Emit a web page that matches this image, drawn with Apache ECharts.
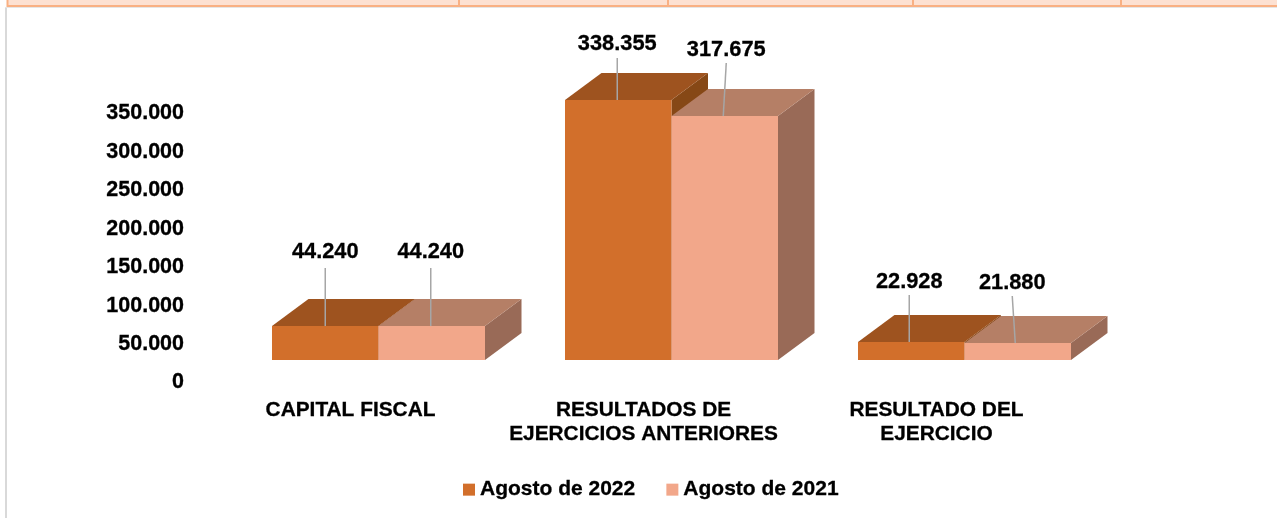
<!DOCTYPE html>
<html>
<head>
<meta charset="utf-8">
<style>html,body{margin:0;padding:0;background:#fff}#c{width:1277px;height:518px}</style>
<script src="https://cdn.jsdelivr.net/npm/echarts@6/dist/echarts.min.js"></script>
</head>
<body>
<div id="c"></div>
<script>
const categories = ['CAPITAL FISCAL', 'RESULTADOS DE\nEJERCICIOS ANTERIORES', 'RESULTADO DEL\nEJERCICIO'];
const seriesNames = ['Agosto de 2022', 'Agosto de 2021'];
const values2022 = [44240, 338355, 22928];
const values2021 = [44240, 317675, 21880];
const yMax = 350000;
const yStep = 50000;

// Presentation only
const FONT = '"Liberation Sans", Arial, sans-serif';
const DEPTH_X = 36.5, DEPTH_Y = 27, FLOOR_LIFT = 22.5, BAR_SHARE = 0.3635;
const INK = { textBorderColor: '#000', textBorderWidth: 0.3 };
const palettes = [
  { front: '#D26F2B', top: '#9E531F', side: '#864816' },
  { front: '#F2A78A', top: '#B57F66', side: '#996A57' }
];
// leader lines: [shift at bar, shift at label, length, gap to label]
const leaders = [
  [[0, 0, 58, 16], [-1, -1, 42, 14], [-2, -2, 47, 13]],
  [[-1, -1, 58, 16], [-1.5, 1.5, 53, 13], [-2.5, -5.5, 47, 13]]
];
const fmt = v => String(v).replace(/\B(?=(\d{3})+$)/g, '.');

function renderBar(seriesIdx) {
  return function (params, api) {
    const cat = api.value(0), val = api.value(1);
    const base = api.coord([cat, 0]), head = api.coord([cat, val]);
    const w = api.size([1, 0])[0] * BAR_SHARE;
    const x0 = base[0] + (seriesIdx === 0 ? -w : 0), x1 = x0 + w;
    const yb = Math.round(base[1] - FLOOR_LIFT), yt = Math.round(head[1] - FLOOR_LIFT);
    const c = palettes[seriesIdx];
    const poly = (points, fill) => ({ type: 'polygon', shape: { points }, style: { fill } });
    const [s0, s1, len, gap] = leaders[seriesIdx][cat];
    const lx = (x0 + x1) / 2 + s0, ex = (x0 + x1) / 2 + s1;
    return {
      type: 'group',
      children: [
        poly([[x1, yt], [x1 + DEPTH_X, yt - DEPTH_Y], [x1 + DEPTH_X, yb - DEPTH_Y], [x1, yb]], c.side),
        poly([[x0, yt], [x0 + DEPTH_X, yt - DEPTH_Y], [x1 + DEPTH_X, yt - DEPTH_Y], [x1, yt]], c.top),
        poly([[x0, yb], [x0, yt], [x1, yt], [x1, yb]], c.front),
        { type: 'line', shape: { x1: lx, y1: yt, x2: ex, y2: yt - len }, style: { stroke: '#A6A6A6', lineWidth: 1.5 } },
        { type: 'text', x: ex, y: yt - len - gap,
          style: { text: fmt(val), font: 'bold 21.8px ' + FONT, fill: '#000', align: 'center', verticalAlign: 'middle', stroke: '#000', lineWidth: 0.3 } }
      ]
    };
  };
}

const strip = '#FDE1D2', stripLine = '#F9B083';
const rect = (x, y, width, height, fill) => ({ type: 'rect', shape: { x, y, width, height }, style: { fill }, silent: true });

const chart = echarts.init(document.getElementById('c'), null, { renderer: 'canvas' });
chart.setOption({
  animation: false,
  backgroundColor: '#fff',
  textStyle: { fontFamily: FONT },
  graphic: [
    rect(5, 7, 2, 511, '#D9D9D9'),
    rect(5, 7, 1272, 1, '#E6E6E6'),
    rect(7, 0, 1270, 6, strip),
    rect(7, 5, 1270, 2, stripLine),
    rect(6.5, 0, 2, 7, stripLine),
    rect(458, 0, 2, 7, stripLine),
    rect(667, 0, 2, 7, stripLine),
    rect(912, 0, 2, 7, stripLine),
    rect(1120, 0, 2, 7, stripLine)
  ],
  grid: { left: 232, right: 166, top: 113.5, bottom: 135.5 },
  legend: {
    left: 458, top: 474,
    itemWidth: 12, itemHeight: 12, itemGap: 31, icon: 'rect',
    textStyle: { fontFamily: FONT, fontWeight: 'bold', fontSize: 21, color: '#000', ...INK },
    data: seriesNames
  },
  xAxis: {
    type: 'category', data: categories,
    axisLine: { show: false }, axisTick: { show: false },
    axisLabel: {
      interval: 0, margin: 15.5, padding: [0, 56, 0, 0],
      fontFamily: FONT, fontWeight: 'bold', fontSize: 20.85, lineHeight: 24, color: '#000', ...INK
    }
  },
  yAxis: {
    type: 'value', min: 0, max: yMax, interval: yStep,
    splitLine: { show: false }, axisLine: { show: false }, axisTick: { show: false },
    axisLabel: {
      margin: 48, formatter: fmt,
      fontFamily: FONT, fontWeight: 'bold', fontSize: 21.5, color: '#000', ...INK
    }
  },
  series: [values2022, values2021].map((vals, i) => ({
    type: 'custom', name: seriesNames[i], clip: false, silent: true,
    itemStyle: { color: palettes[i].front },
    encode: { x: 0, y: 1 },
    data: vals.map((v, k) => [k, v]),
    renderItem: renderBar(i)
  }))
});
</script>
</body>
</html>
